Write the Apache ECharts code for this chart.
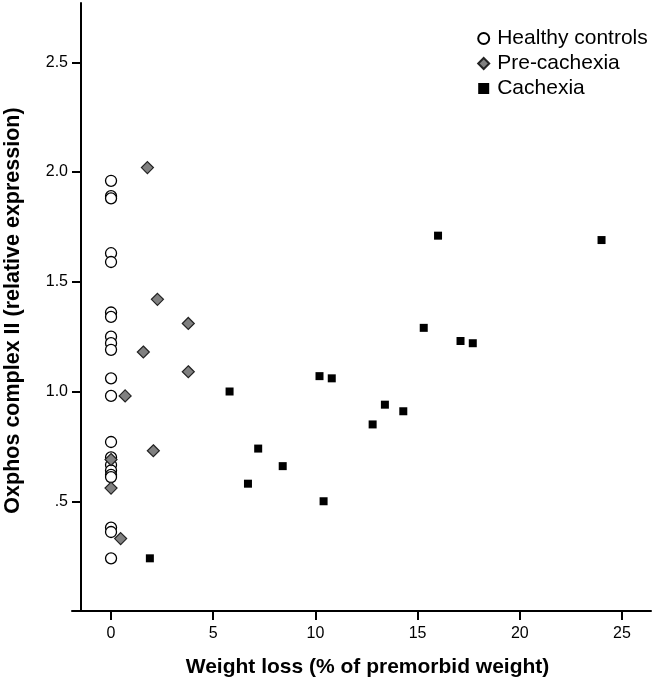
<!DOCTYPE html>
<html>
<head>
<meta charset="utf-8">
<script src="https://cdn.jsdelivr.net/npm/echarts@6/dist/echarts.min.js"></script>
<style>
html,body{margin:0;padding:0;background:#fff;}
#chart{width:653px;height:681px;}
</style>
</head>
<body>
<div id="chart"></div>
<script>
// ---- data ----
var seriesNames = ['Healthy controls', 'Pre-cachexia', 'Cachexia'];
var healthyX = [0,0,0,0,0,0,0,0,0,0,0,0,0,0,0,0,0,0,0,0,0,0];
var healthyY = [1.96,1.89,1.88,1.63,1.59,1.36,1.34,1.25,1.22,1.19,1.06,0.98,0.77,0.70,0.665,0.64,0.62,0.61,0.38,0.36,0.24];
var preX = [1.78,2.27,3.78,1.58,3.78,0.69,2.07,0,0,0.47];
var preY = [2.02,1.42,1.31,1.18,1.09,0.98,0.73,0.69,0.56,0.33];
var cachX = [1.9,5.8,10.2,10.8,13.4,14.3,12.8,7.2,8.4,6.7,10.4,16.0,24.0,15.3,17.1,17.7];
var cachY = [0.24,1.00,1.07,1.06,0.94,0.91,0.85,0.74,0.66,0.58,0.50,1.71,1.69,1.29,1.23,1.22];
var xTicks = [0,5,10,15,20,25];
var yTicks = [0.5,1.0,1.5,2.0,2.5];
var xTitle = 'Weight loss (% of premorbid weight)';
var yTitle = 'Oxphos complex II (relative expression)';

function pairs(xs, ys){ return ys.map(function(y,i){ return [xs[i], y]; }); }

var FONT = '"Liberation Sans", Arial, sans-serif';
var chart = echarts.init(document.getElementById('chart'), null, {renderer:'canvas'});
chart.setOption({
  animation: false,
  backgroundColor: '#ffffff',
  textStyle: {fontFamily: FONT},
  grid: {left: 72, right: 2, top: 3, bottom: 70, containLabel: false, outerBoundsMode: 'none'},
  legend: {
    orient: 'vertical',
    left: 472.2, top: 23,
    itemWidth: 11, itemHeight: 11, itemGap: 4,
    textStyle: {fontSize: 21, color: '#000', fontFamily: FONT, lineHeight: 21, padding: [0, 0, 0, 3]},
    data: seriesNames
  },
  xAxis: {
    type: 'value', min: -1.91, max: 26.42,
    name: xTitle, nameLocation: 'middle', nameGap: 46,
    nameTextStyle: {fontSize: 21, fontWeight: 'bold', color: '#000', fontFamily: FONT, padding: [0, 0, 0, 12]},
    axisLine: {show: true, onZero: false, lineStyle: {color: '#000', width: 2}},
    axisTick: {show: true, length: 9, lineStyle: {color: '#000', width: 2}, customValues: xTicks},
    axisLabel: {fontSize: 16, color: '#000', margin: 15, fontFamily: FONT, customValues: xTicks},
    splitLine: {show: false}
  },
  yAxis: {
    type: 'value', min: 0, max: 2.77, offset: -9,
    name: yTitle, nameLocation: 'middle', nameGap: 57, nameRotate: 90,
    nameTextStyle: {fontSize: 21.5, fontWeight: 'bold', color: '#000', fontFamily: FONT, padding: [0, 7, 0, 0]},
    axisLine: {show: true, onZero: false, lineStyle: {color: '#000', width: 2}},
    axisTick: {show: true, length: 9, lineStyle: {color: '#000', width: 2}, customValues: yTicks},
    axisLabel: {fontSize: 16, color: '#000', margin: 13, fontFamily: FONT, customValues: yTicks,
      formatter: function(v){ return v === 0.5 ? '.5' : v.toFixed(1); }},
    splitLine: {show: false}
  },
  series: [
    {name: seriesNames[0], type: 'scatter', symbol: 'circle', symbolSize: 11,
     itemStyle: {color: '#ffffff', borderColor: '#000', borderWidth: 1.3, opacity: 1},
     data: pairs(healthyX, healthyY), z: 2},
    {name: seriesNames[1], type: 'scatter', symbol: 'diamond', symbolSize: 12,
     itemStyle: {color: '#808080', borderColor: '#222', borderWidth: 1.2, opacity: 1},
     data: pairs(preX, preY), z: 3},
    {name: seriesNames[2], type: 'scatter', symbol: 'rect', symbolSize: 8,
     itemStyle: {color: '#000', opacity: 1},
     data: pairs(cachX, cachY), z: 4}
  ]
});
</script>
</body>
</html>
